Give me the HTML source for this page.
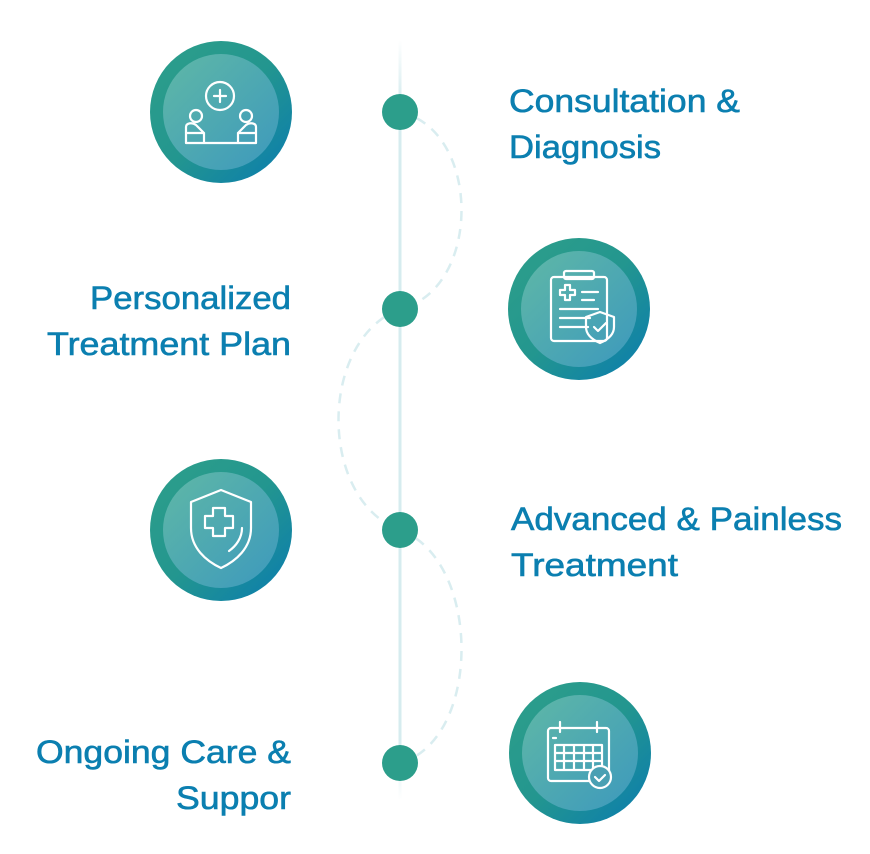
<!DOCTYPE html>
<html><head><meta charset="utf-8"><style>
html,body{margin:0;padding:0;background:#fff;width:870px;height:854px;overflow:hidden}
svg{display:block}
text{font-family:"Liberation Sans",sans-serif;font-size:32px;fill:#0b7fb0;stroke:#0b7fb0;stroke-width:0.6}
</style></head><body>
<svg width="870" height="854" viewBox="0 0 870 854" xmlns="http://www.w3.org/2000/svg">
<defs>
<linearGradient id="ring" x1="0" y1="0" x2="1" y2="1">
<stop offset="0" stop-color="#2e9f8a"/><stop offset="0.5" stop-color="#23968f"/><stop offset="1" stop-color="#0a7bb0"/></linearGradient>
<linearGradient id="inner" x1="0" y1="0" x2="1" y2="1">
<stop offset="0" stop-color="#5fb8a6"/><stop offset="1" stop-color="#3d99bd"/></linearGradient>
<linearGradient id="vl" x1="0" y1="0" x2="0" y2="1">
<stop offset="0" stop-color="#d6ecef" stop-opacity="0"/><stop offset="0.08" stop-color="#d6ecef"/><stop offset="0.92" stop-color="#d6ecef"/><stop offset="1" stop-color="#d6ecef" stop-opacity="0"/></linearGradient>
<g id="c"><circle r="71" fill="url(#ring)"/><circle r="58" fill="url(#inner)"/></g>
</defs>
<rect x="398.5" y="40" width="3" height="760" fill="url(#vl)"/>
<g fill="none" stroke="#d9edf0" stroke-width="2.5" stroke-dasharray="10 8">
<path d="M400 112 C482 130 482 290 400 309"/>
<path d="M400 309 C318 340 318 500 400 530"/>
<path d="M400 530 C482 560 482 740 400 763"/>
</g>
<g fill="#2c9e8b">
<circle cx="400" cy="112" r="18"/><circle cx="400" cy="309" r="18"/><circle cx="400" cy="530" r="18"/><circle cx="400" cy="763" r="18"/>
</g>
<use href="#c" x="221" y="112"/>
<use href="#c" x="579" y="309"/>
<use href="#c" x="221" y="530"/>
<use href="#c" x="580" y="753"/>
<g fill="none" stroke="#fff" stroke-width="2.2" stroke-linecap="round" stroke-linejoin="round">
<circle cx="220" cy="96" r="14"/><path d="M214 96h12M220 90v12"/>
<circle cx="196" cy="116" r="6"/><circle cx="246" cy="116" r="6"/>
<path d="M186 143v-16c0-4 6-5 10-2l8 8h-18M256 143v-16c0-4-6-5-10-2l-8 8h18M186 143h70M204 133v10M238 133v10"/>
<rect x="551" y="277" width="56" height="64" rx="3"/><rect x="564" y="271" width="30" height="8" rx="2"/>
<path d="M560 290h5v-5h5v5h5v5h-5v5h-5v-5h-5zM582 292h16M582 300h12M560 309h38M560 318h30M560 327h28"/>
<path d="M600 312l14 5v10c0 8-7 13-14 16c-7-3-14-8-14-16v-10z"/><path d="M594 327l4 4l8-8"/>
<path d="M221 490l30 12v26c0 20-15 33-30 40c-15-7-30-20-30-40v-26z"/>
<path d="M213 516h-8v12h8v8h12v-8h8v-12h-8v-8h-12z"/>
<path d="M242 528c0 10-6 18-13 23"/>
<rect x="548" y="728" width="61" height="53" rx="3"/>
<path d="M560 722v10M597 722v10M553 738h3"/>
<path d="M555 745h47v25h-47zM555 753h47M555 761h47M564 745v25M574 745v25M584 745v25M593 745v25"/>
<circle cx="600" cy="777" r="11" fill="#4aa0b3"/><path d="M595 777l4 4l6-6"/>
</g>
<g lengthAdjust="spacingAndGlyphs">
<text x="509" y="112" textLength="231" lengthAdjust="spacingAndGlyphs">Consultation &amp;</text>
<text x="509" y="158" textLength="152" lengthAdjust="spacingAndGlyphs">Diagnosis</text>
<text x="90" y="309" textLength="201" lengthAdjust="spacingAndGlyphs">Personalized</text>
<text x="47" y="355" textLength="244" lengthAdjust="spacingAndGlyphs">Treatment Plan</text>
<text x="511" y="530" textLength="331" lengthAdjust="spacingAndGlyphs">Advanced &amp; Painless</text>
<text x="511" y="576" textLength="167" lengthAdjust="spacingAndGlyphs">Treatment</text>
<text x="36" y="763" textLength="255" lengthAdjust="spacingAndGlyphs">Ongoing Care &amp;</text>
<text x="176" y="809" textLength="115" lengthAdjust="spacingAndGlyphs">Suppor</text>
</g>
</svg>
</body></html>
